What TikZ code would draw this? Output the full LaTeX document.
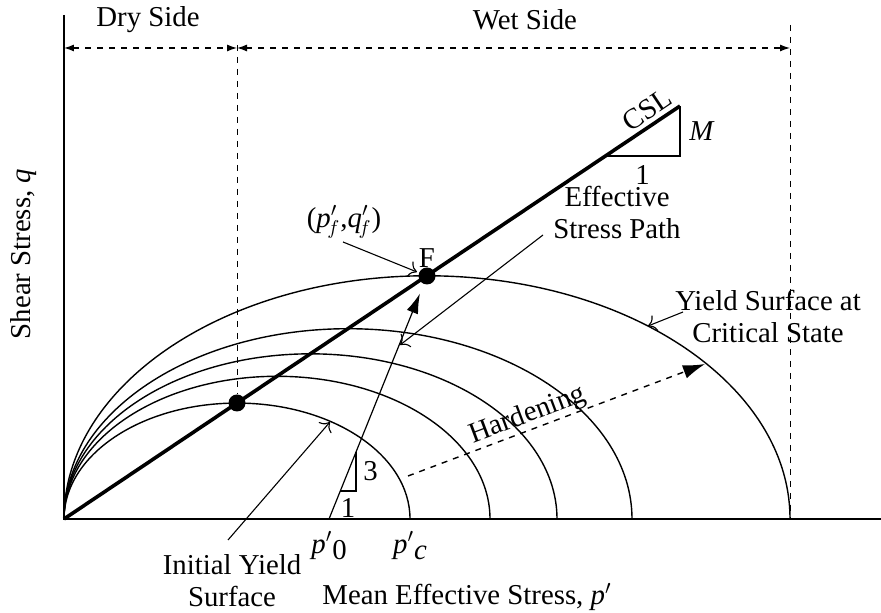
\documentclass[tikz,border=0pt]{standalone}
\usepackage{fontspec}
\setmainfont{Liberation Serif}
\usepackage{tikz}
\usetikzlibrary{arrows.meta}

\begin{document}
\begin{tikzpicture}[x=0.5pt, y=0.5pt, >=Latex, font=\fontsize{14.4}{16}\selectfont]
        \tikzstyle{axis}=[line width=1pt]
        \tikzstyle{yield}=[line width=0.7pt]
        \tikzstyle{csl}=[line width=1.8pt]
        \tikzstyle{dot}=[circle, fill=black, inner sep=0pt, minimum size=8.5pt]
        \tikzstyle{leader}=[line width=0.55pt, -{To[length=4pt]}]
        \tikzstyle{dim}=[dashed, line width=0.6pt, {Latex[length=5pt, width=3.5pt]}-{Latex[length=5pt, width=3.5pt]}]
        \tikzstyle{lbl}=[align=center, inner sep=1pt]
        \useasboundingbox (-64,-94) rectangle (817,519);

        % axes
        \coordinate (O) at (0,0);
        \coordinate (qtop) at (0,504);
        \coordinate (pend) at (817,0);
        \draw[axis] (qtop) -- (O) -- (pend);

        % yield surfaces
        \foreach \a in {173,213,246.5,284,363}
            \draw[yield] (O) arc[start angle=180, end angle=0, x radius=\a, y radius=0.67*\a];

        % critical state line
        \coordinate (cslend) at (616,413);
        \coordinate (mbase) at (541,363);
        \coordinate (mcorner) at (616,363);
        \draw[csl] (O) -- node[pos=0.96, sloped, above=2pt, inner sep=0pt]{CSL} (cslend);
        \draw[line width=0.7pt] (mbase) -- node[below=1pt]{1} (mcorner) -- node[right=1pt]{\textit{M}} (cslend);

        \node[dot] (A) at (173,116) {};
        \node[dot] (F) at (363,243) {};
        \node[lbl, above=3pt] (Flbl) at (F) {F};

        % dry and wet side
        \coordinate (dtop) at (173,474);
        \coordinate (wtop) at (726,494);
        \coordinate (wbot) at (726,0);
        \coordinate (dimL) at (0,471);
        \coordinate (dimM) at (173,471);
        \coordinate (dimR) at (726,471);
        \draw[dashed, line width=0.5pt] (dtop) -- (A);
        \draw[dashed, line width=0.5pt] (wtop) -- (wbot);
        \draw[dim] (dimL) -- (dimM);
        \draw[dim] (dimM) -- (dimR);
        \node[lbl] (dry) at (84,499) {Dry Side};
        \node[lbl] (wet) at (461,499) {Wet Side};

        % effective stress path
        \coordinate (p0) at (265,0);
        \draw[line width=0.6pt, -{Latex[length=10pt, width=6pt]}, shorten >=5pt] (p0) -- (F);
        \coordinate (s1) at (276,28);
        \coordinate (s2) at (292,28);
        \coordinate (s3) at (292,67);
        \draw[line width=0.6pt] (s1) -- node[below=0pt]{1} (s2) -- node[right=0pt]{3} (s3);

        % hardening
        \coordinate (h1) at (344,43);
        \coordinate (h2) at (641,155);
        \draw[dashed, line width=0.7pt, -{Latex[length=11pt, width=7pt]}] (h1) -- node[sloped, above=-3pt, pos=0.42]{Hardening} (h2);

        % labels and leaders
        \node[lbl] (pf) at (280,297) {(\textit{p}$'_{\!f}$,\textit{q}$'_{\!f}$)};
        \coordinate (pfend) at (353,247);
        \draw[leader] (279,277) -- (pfend);

        \node[lbl] (esp) at (553,306) {Effective\\Stress Path};
        \coordinate (espend) at (336,174);
        \draw[leader] (479,284) -- (espend);

        \node[lbl] (ysc) at (704,202) {Yield Surface at\\Critical State};
        \coordinate (yscend) at (584,193);
        \draw[leader] (619,207) -- (yscend);

        \node[lbl] (iys) at (168,-62) {Initial Yield\\Surface};
        \coordinate (iysend) at (266,97);
        \draw[leader] (164,-21) -- (iysend);

        \node[lbl] (p0lbl) at (265,-27) {\textit{p}$'$\raisebox{-0.5ex}{0}};
        \node[lbl] (pclbl) at (346,-27) {\textit{p}$'$\raisebox{-0.5ex}{\textit{c}}};
        \node[lbl] (xlbl) at (403,-78) {Mean Effective Stress, \textit{p}$'$};
        \node[lbl, rotate=90] (ylbl) at (-40,265) {Shear Stress, \textit{q}};
    \end{tikzpicture}
\end{document}
